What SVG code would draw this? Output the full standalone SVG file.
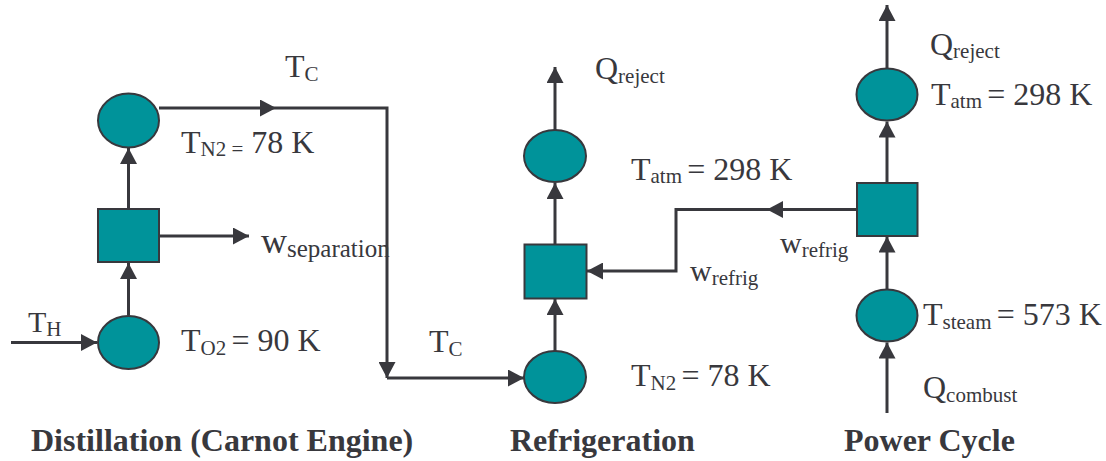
<svg xmlns="http://www.w3.org/2000/svg" width="1106" height="461" viewBox="0 0 1106 461">
<defs>
<style>
.node{fill:#00939a;stroke:#38383d;stroke-width:2}
.con{fill:none;stroke:#38383d;stroke-width:3}
.arr{marker-end:url(#ah)}
.t{font-family:'Liberation Serif','Times New Roman',Times,serif;font-size:32px;fill:#38383d}
.s{font-size:21px}
.lbl{font-weight:bold;font-size:32px}
</style>
<marker id="ah" markerUnits="userSpaceOnUse" markerWidth="17" markerHeight="17" refX="16" refY="8.5" orient="auto" viewBox="0 0 17 17">
<path d="M0,0 L16,8.5 L0,17 z" fill="#38383d"/>
</marker>
</defs>
<rect width="1106" height="461" fill="#fff"/>

<g id="connectors">
<path class="con arr" d="M11,342.5 H97"/>
<path class="con arr" d="M128.5,315.5 V263"/>
<path class="con arr" d="M128.5,209 V148"/>
<path class="con arr" d="M159,236 H249"/>
<path class="con arr" d="M159,108 H276"/>
<path class="con arr" d="M276,108 H387 V378"/>
<path class="con arr" d="M387,378 H524"/>
<path class="con arr" d="M555,351 V299"/>
<path class="con arr" d="M555,244.5 V183"/>
<path class="con arr" d="M555,130 V67"/>
<path class="con arr" d="M887,413 V342.5"/>
<path class="con arr" d="M887,289.5 V236.5"/>
<path class="con arr" d="M887,183 V121.5"/>
<path class="con arr" d="M887,68 V5"/>
<path class="con arr" d="M857,209.5 H767"/>
<path class="con arr" d="M767,209.5 H676 V271 H587"/>
</g>

<g id="dist-top"><ellipse class="node" cx="128.5" cy="120.5" rx="30.5" ry="27"/></g>
<g id="dist-sep"><rect class="node" x="98" y="209" width="61" height="53"/></g>
<g id="dist-bottom"><ellipse class="node" cx="128.5" cy="342.5" rx="30.5" ry="26.5"/></g>

<g id="refrig-top"><ellipse class="node" cx="555" cy="156" rx="31" ry="26"/></g>
<g id="refrig-box"><rect class="node" x="524.5" y="244.5" width="62" height="54"/></g>
<g id="refrig-bottom"><ellipse class="node" cx="555" cy="377" rx="31" ry="26"/></g>

<g id="power-top"><ellipse class="node" cx="887" cy="94.5" rx="30.5" ry="26"/></g>
<g id="power-box"><rect class="node" x="857" y="183" width="60.5" height="53"/></g>
<g id="power-bottom"><ellipse class="node" cx="887" cy="315.5" rx="30.5" ry="26"/></g>

<g id="labels" class="t" font-family="Liberation Serif, serif">
<text x="285" y="77">T<tspan class="s" y="81">C</tspan></text>
<text x="181" y="153">T<tspan class="s" y="156">N2 =</tspan><tspan y="153"> 78 K</tspan></text>
<text x="261" y="253" style="font-size:36px">w<tspan style="font-size:25px" y="257">separation</tspan></text>
<text x="28" y="332" style="font-size:30px">T<tspan class="s" y="336">H</tspan></text>
<text x="181" y="351">T<tspan class="s" y="355">O2 </tspan><tspan y="351">= 90 K</tspan></text>

<text x="429" y="352">T<tspan class="s" y="356">C</tspan></text>
<text x="595" y="79">Q<tspan class="s" y="83">reject</tspan></text>
<text x="631" y="179.5">T<tspan class="s" y="183">atm </tspan><tspan y="179.5">= 298 K</tspan></text>
<text x="690" y="280.5" style="font-size:30px">w<tspan class="s" y="285">refrig</tspan></text>
<text x="631" y="386">T<tspan class="s" y="390">N2 </tspan><tspan y="386">= 78 K</tspan></text>

<text x="930" y="54.5">Q<tspan class="s" y="58">reject</tspan></text>
<text x="931" y="104.5">T<tspan class="s" y="108">atm </tspan><tspan y="104.5">= 298 K</tspan></text>
<text x="780" y="253" style="font-size:30px">w<tspan class="s" y="257">refrig</tspan></text>
<text x="923" y="325">T<tspan class="s" y="329">steam </tspan><tspan y="325">= 573 K</tspan></text>
<text x="923" y="398">Q<tspan class="s" y="402">combust</tspan></text>

<text class="lbl" x="31" y="451">Distillation (Carnot Engine)</text>
<text class="lbl" x="510" y="451">Refrigeration</text>
<text class="lbl" x="844" y="451">Power Cycle</text>
</g>
</svg>
